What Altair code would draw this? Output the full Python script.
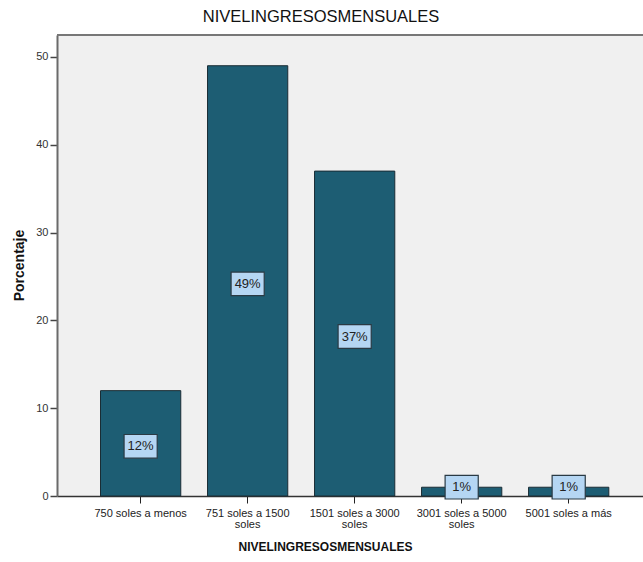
import altair as alt
import pandas as pd

# Monthly income brackets and their share of respondents (%)
categorias = [
    "750 soles a menos",
    "751 soles a 1500\nsoles",
    "1501 soles a 3000\nsoles",
    "3001 soles a 5000\nsoles",
    "5001 soles a más",
]
porcentajes = [12, 49, 37, 1, 1]
etiquetas = ["12%", "49%", "37%", "1%", "1%"]

df = pd.DataFrame({"cat": categorias, "pct": porcentajes, "lab": etiquetas})

FONT = "Liberation Sans"
BAR = "#1d5d73"

x_enc = alt.X(
    "cat:N",
    sort=categorias,
    scale=alt.Scale(paddingInner=0.25, paddingOuter=0.363, align=0.56),
    axis=alt.Axis(
        title="NIVELINGRESOSMENSUALES",
        titleFont=FONT, titleFontSize=12, titleFontWeight="bold", titleColor="#111",
        titleX=268, titleY=50, titleBaseline="middle",
        labelExpr="split(datum.label, '\\n')",
        labelFont=FONT, labelFontSize=11, labelColor="#222", labelAngle=0,
        labelLineHeight=11, labelPadding=4,
        tickSize=7, tickColor="#222", tickWidth=1,
        domainColor="#333", domainWidth=1.5,
        grid=False,
    ),
)

y_scale = alt.Scale(domain=[0, 52.5], nice=False)

bars = alt.Chart(df).mark_bar(
    color=BAR, stroke="#1a2c34", strokeWidth=1
).encode(
    x=x_enc,
    y=alt.Y(
        "pct:Q",
        scale=y_scale,
        axis=alt.Axis(
            title="Porcentaje",
            titleFont=FONT, titleFontSize=14, titleFontWeight="bold", titleColor="#111",
            titleX=-38, titleY=230, titleAngle=270, titleBaseline="middle",
            values=[0, 10, 20, 30, 40, 50],
            labelFont=FONT, labelFontSize=11, labelColor="#333", labelPadding=2,
            tickSize=7, tickColor="#444", tickWidth=1.5,
            domainColor="#6a6a6a", domainWidth=2,
            grid=False,
        ),
    ),
)

# Value labels: boxed percentages centred on each bar
base_lbl = alt.Chart(df).transform_calculate(
    mid="max(datum.pct / 2, 1.35)"
)

boxes = base_lbl.mark_point(
    shape="M-1.4,-1H1.4V1H-1.4Z",
    size=560, filled=True, fill="#b5d6f3", stroke="#2a3a44", strokeWidth=1.2,
    opacity=1, yOffset=3,
).encode(
    x=alt.X("cat:N", sort=categorias),
    y=alt.Y("mid:Q", scale=y_scale),
)

texts = base_lbl.mark_text(
    font=FONT, fontSize=13, color="#222", baseline="middle", yOffset=3,
).encode(
    x=alt.X("cat:N", sort=categorias),
    y=alt.Y("mid:Q", scale=y_scale),
    text="lab:N",
)

# Top frame line of the plot area
top_line = alt.Chart(df).mark_rule(color="#777", strokeWidth=2).encode(
    y=alt.value(0)
)

chart = alt.layer(bars, boxes, texts, top_line).properties(
    width=586,
    height=461,
    background="white",
    autosize=alt.AutoSizeParams(type="none"),
    padding={"left": 57, "top": 35, "right": 0, "bottom": 66},
    title=alt.TitleParams(
        "NIVELINGRESOSMENSUALES",
        font=FONT, fontSize=16.5, fontWeight="normal", color="#111",
        anchor="middle", dx=-29, offset=9,
    ),
).configure_view(
    fill="#f0f0f0", strokeWidth=0
)

chart.save("out.html", embed_options={"renderer": "svg", "actions": False})
